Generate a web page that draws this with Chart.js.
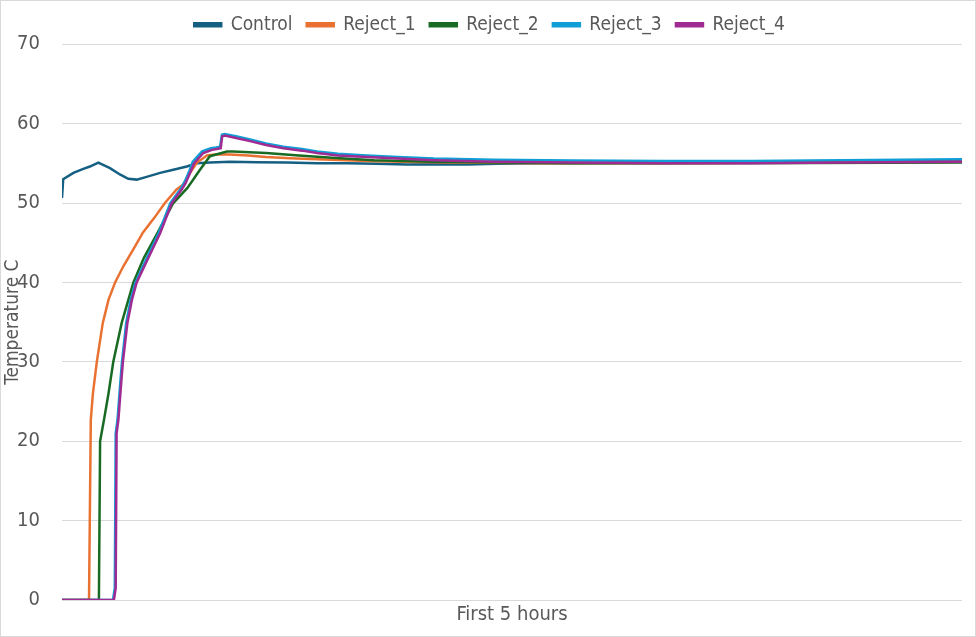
<!DOCTYPE html>
<html>
<head>
<meta charset="utf-8">
<script src="https://cdn.jsdelivr.net/npm/chart.js@4"></script>
<style>
  html, body { margin: 0; padding: 0; background: #ffffff; }
  #frame { width: 976px; height: 637px; box-sizing: border-box; border: 1px solid #d9d9d9; background: #ffffff; }
  canvas { display: block; }
</style>
</head>
<body>
<div id="frame"><canvas id="chart" width="961" height="635"></canvas></div>
<script>
// minutes into the run (0..300) and temperature in C
const controlT = [0, 0.4, 3.8, 7.1, 9.3, 12.1, 16, 19.3, 22.1, 24.9, 28.2, 32.7, 37.1, 41.6, 44.9, 49.3, 56, 65, 75, 85, 95, 105, 115, 125, 135, 145, 160, 180, 200, 220, 240, 260, 280, 300];
const controlV = [50.65, 53.0, 53.8, 54.3, 54.6, 55.1, 54.4, 53.6, 53.05, 52.95, 53.3, 53.8, 54.2, 54.6, 55.0, 55.1, 55.2, 55.15, 55.1, 55.0, 55.0, 54.95, 54.85, 54.9, 54.85, 54.95, 55.0, 55.05, 55.1, 55.1, 55.15, 55.2, 55.3, 55.3];

const reject1T = [0, 9.0, 9.6, 10.3, 11.6, 13.6, 15.5, 17.7, 20.4, 24.3, 27, 30.7, 34.3, 38.2, 40.3, 42.7, 45, 48.3, 52, 56, 62, 68, 76, 85, 95, 102, 113, 130, 160, 200, 250, 300];
const reject1V = [0, 0, 22.7, 26, 30, 34.9, 37.8, 40, 42, 44.5, 46.3, 48.1, 50, 51.7, 52.3, 53.8, 55.1, 56.0, 56.15, 56.1, 56.0, 55.8, 55.65, 55.5, 55.4, 55.3, 55.2, 55.1, 55.0, 55.0, 55.1, 55.2];

const reject2T = [0, 12.3, 12.7, 14, 15.5, 17.1, 19.9, 23.8, 27.3, 31.8, 37.1, 41.8, 46, 49.3, 55, 57, 68, 79, 90, 104, 124, 144, 170, 200, 250, 300];
const reject2V = [0, 0, 20, 22.7, 26, 30, 34.9, 40, 43.1, 46.2, 50, 51.9, 54.2, 55.9, 56.5, 56.5, 56.3, 56.0, 55.7, 55.4, 55.2, 55.1, 55.0, 55.0, 55.05, 55.1];

const reject3T = [0, 17.0, 17.6, 17.9, 18.5, 19.5, 20.0, 21.4, 22.9, 24.5, 28.3, 32.2, 36.1, 39.4, 40.8, 42.3, 43.6, 46.7, 49.6, 51.3, 52.7, 53.3, 54.2, 58, 62.7, 68, 73.8, 80, 85, 92, 101.6, 112, 124, 144, 170, 200, 230, 260, 300];
const reject3V = [0, 0, 1.5, 21, 22.7, 27.7, 30, 34.9, 37.8, 40, 43.1, 46.2, 50, 51.7, 52.6, 53.9, 55.2, 56.5, 56.9, 57.0, 57.1, 58.6, 58.7, 58.4, 58.0, 57.5, 57.1, 56.8, 56.5, 56.2, 56.0, 55.8, 55.6, 55.45, 55.35, 55.3, 55.3, 55.4, 55.5];

const reject4T = [0, 17.3, 17.9, 18.2, 18.8, 19.8, 20.3, 21.8, 23.3, 24.9, 28.8, 32.7, 36.6, 39.9, 41.2, 42.7, 44, 47.1, 50, 51.6, 52.9, 53.4, 54.3, 58, 62.7, 68, 73.8, 80, 85, 92, 101.6, 112, 124, 144, 170, 200, 230, 260, 300];
const reject4V = [0, 0, 1.5, 21, 22.7, 27.7, 30, 34.9, 37.8, 40, 43.1, 46.2, 50, 51.7, 52.5, 53.8, 55.0, 56.3, 56.7, 56.8, 56.9, 58.4, 58.5, 58.2, 57.8, 57.3, 56.9, 56.6, 56.3, 56.0, 55.8, 55.6, 55.4, 55.2, 55.1, 55.0, 55.0, 55.1, 55.2];

const seriesNames = ['Control', 'Reject_1', 'Reject_2', 'Reject_3', 'Reject_4'];
const seriesColors = ['#156082', '#e97132', '#196b24', '#0f9ed5', '#a02b93'];
const seriesTimes = [controlT, reject1T, reject2T, reject3T, reject4T];
const seriesValues = [controlV, reject1V, reject2V, reject3V, reject4V];

const FONT = "'DejaVu Sans Condensed', 'Liberation Sans Narrow', sans-serif";
const TEXT = '#595959';
Chart.defaults.font.family = FONT;
Chart.defaults.color = TEXT;

const toPoints = (times, values) => times.map((t, i) => ({ x: t, y: values[i] }));

const datasets = seriesNames.map((name, i) => ({
    label: name,
    data: toPoints(seriesTimes[i], seriesValues[i]),
    borderColor: seriesColors[i],
    backgroundColor: seriesColors[i],
    borderWidth: 2.5,
    pointRadius: 0,
    tension: 0,
    fill: false,
    // later series sit on top, as in the original
    order: seriesNames.length - i,
}));

new Chart(document.getElementById('chart'), {
    type: 'line',
    data: { datasets },
    options: {
        responsive: false,
        animation: false,
        // the left padding nudges the legend to the centre of the whole frame
        layout: { padding: { left: 16, right: 0, top: 0, bottom: 0 } },
        plugins: {
            legend: {
                position: 'top',
                labels: {
                    boxWidth: 27,
                    boxHeight: 3,
                    padding: 14.25,
                    font: { size: 19 },
                    color: TEXT,
                    sort: (a, b) => a.datasetIndex - b.datasetIndex,
                },
            },
            tooltip: { enabled: false },
        },
        scales: {
            x: {
                type: 'linear',
                min: 0,
                max: 300,
                ticks: { display: false },
                grid: { display: false },
                border: { display: false },
                title: {
                    display: true,
                    text: 'First 5 hours',
                    color: TEXT,
                    font: { size: 20 },
                    padding: { top: 0, bottom: 9 },
                },
                afterFit: (scale) => { scale.height = 36; },
            },
            y: {
                min: 0,
                max: 70,
                ticks: { stepSize: 10, padding: 22, color: TEXT, font: { size: 20 } },
                grid: { color: '#d9d9d9', lineWidth: 1, drawTicks: false },
                border: { display: false },
                title: {
                    display: true,
                    text: 'Temperature C',
                    color: TEXT,
                    font: { size: 19 },
                    padding: { top: -15, bottom: 0 },
                },
                afterFit: (scale) => { scale.width = 45; },
            },
        },
    },
});
</script>
</body>
</html>
